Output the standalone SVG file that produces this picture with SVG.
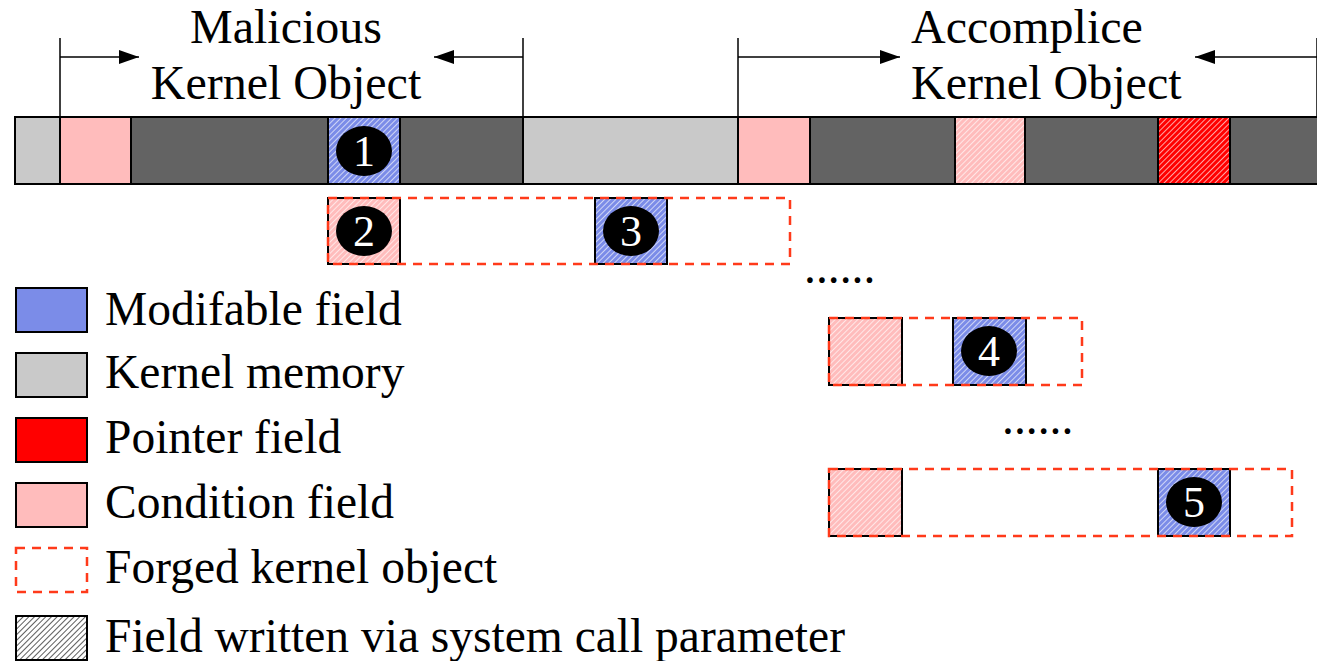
<svg xmlns="http://www.w3.org/2000/svg" width="1317" height="661" viewBox="0 0 1317 661">
<style>
.t{font-family:"Liberation Serif","Times New Roman",serif;font-size:47.5px;fill:#000}
.h{font-size:48px}
.n{font-family:"Liberation Serif","Times New Roman",serif;font-size:44px;fill:#fff;text-anchor:middle}
.seg{stroke:#000;stroke-width:2}
.fg{fill:none;stroke:#ff3a1a;stroke-width:2.5;stroke-dasharray:9,7}
.dim{stroke:#000;stroke-width:1.5;fill:none}
</style>
<defs>
<pattern id="hb" width="4" height="4" patternUnits="userSpaceOnUse" patternTransform="rotate(45)"><rect width="4" height="4" fill="#7b8ce8"/><line x1="0" y1="0" x2="0" y2="4" stroke="#fff" stroke-width="1.3"/></pattern>
<pattern id="hp" width="4" height="4" patternUnits="userSpaceOnUse" patternTransform="rotate(45)"><rect width="4" height="4" fill="#ffbcbc"/><line x1="0" y1="0" x2="0" y2="4" stroke="#fff" stroke-width="1.3"/></pattern>
<pattern id="hr" width="4" height="4" patternUnits="userSpaceOnUse" patternTransform="rotate(45)"><rect width="4" height="4" fill="#ff0000"/><line x1="0" y1="0" x2="0" y2="4" stroke="#fff" stroke-width="1.3"/></pattern>
<pattern id="hk" width="4" height="4" patternUnits="userSpaceOnUse" patternTransform="rotate(45)"><rect width="4" height="4" fill="#fff"/><line x1="0" y1="0" x2="0" y2="4" stroke="#333" stroke-width="1.6"/></pattern>
<marker id="ah" viewBox="0 0 20 14" refX="20" refY="7" markerWidth="20" markerHeight="14" markerUnits="userSpaceOnUse" orient="auto"><path d="M0,0 L20,7 L0,14 z" fill="#000"/></marker>
</defs>

<g id="labels">
<text class="t h" x="286" y="43" text-anchor="middle">Malicious</text>
<text class="t h" x="286" y="99" text-anchor="middle">Kernel Object</text>
<text class="t h" x="911" y="43">Accomplice</text>
<text class="t h" x="911" y="99">Kernel Object</text>
</g>

<g id="connectors">
<line class="dim" x1="60" y1="38" x2="60" y2="117"/>
<line class="dim" x1="523" y1="38" x2="523" y2="117"/>
<line class="dim" x1="738" y1="38" x2="738" y2="117"/>
<line class="dim" x1="1317" y1="38" x2="1317" y2="117"/>
<line class="dim" x1="60" y1="57" x2="139" y2="57" marker-end="url(#ah)"/>
<line class="dim" x1="523" y1="57" x2="434" y2="57" marker-end="url(#ah)"/>
<line class="dim" x1="738" y1="57" x2="900" y2="57" marker-end="url(#ah)"/>
<line class="dim" x1="1317" y1="57" x2="1195" y2="57" marker-end="url(#ah)"/>
</g>

<g id="memory-bar">
<rect class="seg" x="15" y="117" width="45" height="67" fill="#c9c9c9"/>
<rect class="seg" x="60" y="117" width="71" height="67" fill="#ffbcbc"/>
<rect class="seg" x="131" y="117" width="197" height="67" fill="#636363"/>
<rect class="seg" x="328" y="117" width="72" height="67" fill="url(#hb)"/>
<rect class="seg" x="400" y="117" width="123" height="67" fill="#636363"/>
<rect class="seg" x="523" y="117" width="215" height="67" fill="#c9c9c9"/>
<rect class="seg" x="738" y="117" width="72" height="67" fill="#ffbcbc"/>
<rect class="seg" x="810" y="117" width="145" height="67" fill="#636363"/>
<rect class="seg" x="955" y="117" width="70" height="67" fill="url(#hp)"/>
<rect class="seg" x="1025" y="117" width="133" height="67" fill="#636363"/>
<rect class="seg" x="1158" y="117" width="72" height="67" fill="url(#hr)"/>
<rect class="seg" x="1230" y="117" width="92" height="67" fill="#636363"/>
</g>

<g id="step1">
<ellipse cx="364" cy="151" rx="28" ry="25" fill="#000"/>
<text class="n" x="364" y="166">1</text>
</g>

<g id="forged1">
<rect class="seg" x="328" y="198" width="72" height="66" fill="url(#hp)"/>
<rect class="seg" x="595" y="198" width="72" height="66" fill="url(#hb)"/>
<rect class="fg" x="328" y="198" width="462" height="66"/>
<ellipse cx="364" cy="231" rx="28" ry="25" fill="#000"/>
<text class="n" x="364" y="246">2</text>
<ellipse cx="631" cy="231" rx="28" ry="25" fill="#000"/>
<text class="n" x="631" y="246">3</text>
</g>

<g id="dots1"><text class="t" x="804" y="283">......</text></g>

<g id="forged2">
<rect class="seg" x="829" y="318" width="73" height="67" fill="url(#hp)"/>
<rect class="seg" x="953" y="318" width="73" height="67" fill="url(#hb)"/>
<rect class="fg" x="829" y="318" width="253" height="67"/>
<ellipse cx="989" cy="351" rx="28" ry="25" fill="#000"/>
<text class="n" x="989" y="366">4</text>
</g>

<g id="dots2"><text class="t" x="1002" y="434">......</text></g>

<g id="forged3">
<rect class="seg" x="829" y="469" width="73" height="67" fill="url(#hp)"/>
<rect class="seg" x="1158" y="469" width="72" height="67" fill="url(#hb)"/>
<rect class="fg" x="829" y="469" width="463" height="67"/>
<ellipse cx="1194" cy="502" rx="28" ry="25" fill="#000"/>
<text class="n" x="1194" y="517">5</text>
</g>

<g id="legend">
<rect class="seg" x="16" y="288" width="71" height="44" fill="#7b8ce8"/>
<text class="t" x="105" y="325">Modifable field</text>
<rect class="seg" x="16" y="353" width="71" height="44" fill="#c9c9c9"/>
<text class="t" x="105" y="388">Kernel memory</text>
<rect class="seg" x="16" y="418" width="71" height="44" fill="#ff0000"/>
<text class="t" x="105" y="453">Pointer field</text>
<rect class="seg" x="16" y="483" width="71" height="44" fill="#ffbcbc"/>
<text class="t" x="105" y="518">Condition field</text>
<rect class="fg" x="16" y="548" width="71" height="44" stroke-width="2" stroke-dasharray="8,6"/>
<text class="t" x="105" y="583">Forged kernel object</text>
<rect class="seg" x="16" y="616" width="71" height="44" fill="url(#hk)"/>
<text class="t" x="105" y="652">Field written via system call parameter</text>
</g>
</svg>
